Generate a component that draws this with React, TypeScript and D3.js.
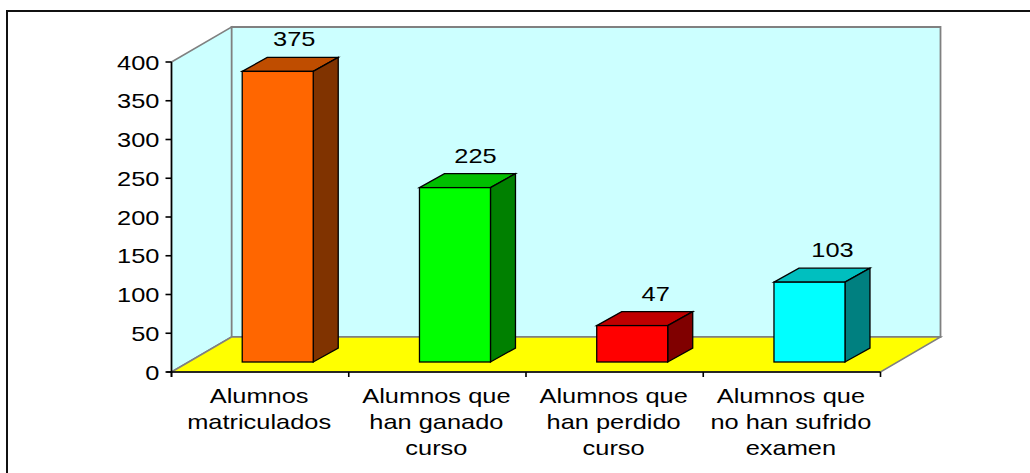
import React from "react";
import * as d3 from "d3";

const categories = [
  ["Alumnos", "matriculados"],
  ["Alumnos que", "han ganado", "curso"],
  ["Alumnos que", "han perdido", "curso"],
  ["Alumnos que", "no han sufrido", "examen"],
];
const values = [375, 225, 47, 103];
const frontColors = ["#ff6600", "#00ff00", "#ff0000", "#00ffff"];
const topColors = ["#bf4d00", "#00bf00", "#bf0000", "#00bfbf"];
const sideColors = ["#803300", "#008000", "#800000", "#008080"];
const yTicks = [0, 50, 100, 150, 200, 250, 300, 350, 400];

const FONT = "'Liberation Sans', Arial, sans-serif";
const STRETCH = 1.21;
const valueLabelNudge = [16.5, 20.5, 23.5, 23];

function Label(props: { x: number; y: number; anchor: string; children: React.ReactNode }) {
  return (
    <text
      transform={`translate(${props.x},${props.y}) scale(${STRETCH},1)`}
      textAnchor={props.anchor}
      stroke="none"
      fill="#000"
      fontFamily={FONT}
      fontSize={21}
    >
      {props.children}
    </text>
  );
}

export default function App() {
  const x0 = 171.5, x1 = 880.5;
  const yBase = 372, yTop = 62;
  const dx = 60, dy = -35;
  const barDx = 25, barDy = -14;
  const y = d3.scaleLinear().domain([0, 400]).range([yBase, yTop]);
  const band = d3.scaleBand<number>().domain(d3.range(categories.length)).range([x0, x1]);
  const barW = 71;
  const barShiftX = 17.6, barShiftY = -10;
  const pts = (p: number[][]) => p.map((q) => q.join(",")).join(" ");

  return (
    <svg width={1030} height={473} style={{ position: "absolute", left: 0, top: 0, display: "block", background: "#fff" }}>
      <path d="M7,473 V11 H1030" fill="none" stroke="#111" strokeWidth={2} />
      {/* walls */}
      <polygon points={pts([[x0 + dx, yTop + dy], [x1 + dx, yTop + dy], [x1 + dx, yBase + dy], [x0 + dx, yBase + dy]])} fill="#ccffff" stroke="#808080" strokeWidth={1.8} />
      <polygon points={pts([[x0, yTop], [x0 + dx, yTop + dy], [x0 + dx, yBase + dy], [x0, yBase]])} fill="#ccffff" stroke="#808080" strokeWidth={1.5} />
      <polygon points={pts([[x0, yBase], [x0 + dx, yBase + dy], [x1 + dx, yBase + dy], [x1, yBase]])} fill="#ffff00" stroke="#808080" strokeWidth={1.5} />
      {/* bars */}
      {values.map((v, i) => {
        const c = (band(i) as number) + band.bandwidth() / 2;
        const l = c - barW / 2 + barShiftX;
        const r = l + barW;
        const t = y(v) + barShiftY;
        const b = yBase + barShiftY;
        return (
          <g key={i} stroke="#000" strokeWidth={1.3} strokeLinejoin="miter">
            <polygon points={pts([[l, t], [l + barDx, t + barDy], [r + barDx, t + barDy], [r, t]])} fill={topColors[i]} />
            <polygon points={pts([[r, t], [r + barDx, t + barDy], [r + barDx, b + barDy], [r, b]])} fill={sideColors[i]} />
            <rect x={l} y={t} width={barW} height={b - t} fill={frontColors[i]} />
            <Label x={(l + r) / 2 + valueLabelNudge[i]} y={t + barDy - 11} anchor="middle">{v}</Label>
          </g>
        );
      })}
      {/* axes */}
      <line x1={x0} x2={x0} y1={yTop} y2={yBase + 5} stroke="#000" strokeWidth={1.6} />
      <line x1={x0 - 5} x2={x1} y1={yBase} y2={yBase} stroke="#000" strokeWidth={1.6} />
      {yTicks.map((t) => (
        <g key={t}>
          <line x1={x0 - 6} x2={x0} y1={y(t)} y2={y(t)} stroke="#000" strokeWidth={1.6} />
          <Label x={x0 - 12} y={y(t) + 7.5} anchor="end">{t}</Label>
        </g>
      ))}
      {d3.range(categories.length + 1).map((i) => {
        const tx = x0 + i * band.step();
        return <line key={i} x1={tx} x2={tx} y1={yBase} y2={yBase + 5} stroke="#000" strokeWidth={1.6} />;
      })}
      {categories.map((lines, i) =>
        lines.map((s, j) => (
          <Label key={`${i}-${j}`} x={(band(i) as number) + band.bandwidth() / 2 - 1} y={403 + j * 26} anchor="middle">{s}</Label>
        ))
      )}
    </svg>
  );
}
